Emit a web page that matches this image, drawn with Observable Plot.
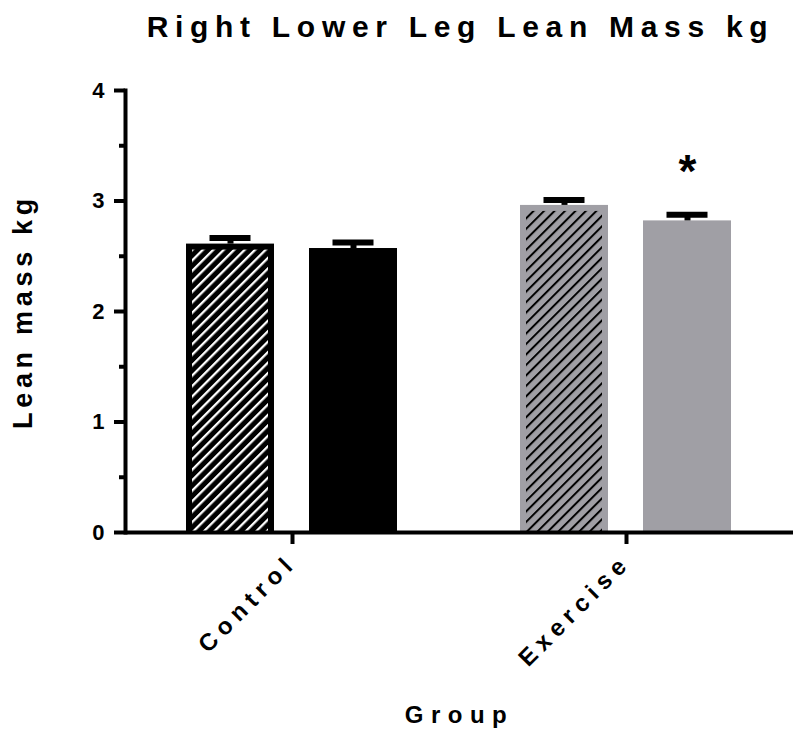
<!DOCTYPE html>
<html>
<head>
<meta charset="utf-8">
<script src="https://cdn.jsdelivr.net/npm/d3@7"></script>
<script src="https://cdn.jsdelivr.net/npm/@observablehq/plot@0.6"></script>
<style>
  body { margin: 0; background: #fff; }
  #chart { position: relative; width: 795px; height: 730px; font-family: "Liberation Sans", Arial, sans-serif; }
  #title { position: absolute; left: 126px; width: 669px; top: 12px; text-align: center; font-size: 30px; font-weight: bold; letter-spacing: 6.7px; line-height: 30px; white-space: nowrap; color: #000; }
  #chart svg { position: absolute; left: 0; top: 0; }
  [aria-label="y-axis label"], [aria-label="y-axis label"] text { font-size: 27px; letter-spacing: 4.7px; }
  [aria-label="fx-axis label"], [aria-label="fx-axis label"] text { font-size: 24px; letter-spacing: 7.5px; }
  [aria-label="fx-axis tick label"] { letter-spacing: 6px; }
  [aria-label="y-axis tick"], [aria-label="fx-axis tick"], [aria-label="frame"] { stroke-width: 4px; }
</style>
</head>
<body>
<div id="chart">
  <div id="title">Right Lower Leg Lean Mass kg</div>
</div>
<script>
// Groups and the two measurement occasions shown side by side in each group
const groups = ["Control", "Exercise"];
const phases = ["pre", "post"];

// Mean lean mass (kg) and standard error for each occasion
const controlMean = [2.61, 2.57];
const controlSem = [0.055, 0.055];
const exerciseMean = [2.96, 2.82];
const exerciseSem = [0.05, 0.055];

// Significance markers drawn above the error bars
const controlSig = ["", ""];
const exerciseSig = ["", "*"];

// Y axis ticks
const yTicks = [0, 1, 2, 3, 4];
const yMinorTicks = [0.5, 1.5, 2.5, 3.5];

const byGroup = {
  Control: {mean: controlMean, sem: controlSem, sig: controlSig},
  Exercise: {mean: exerciseMean, sem: exerciseSem, sig: exerciseSig}
};
const rows = groups.flatMap(g => phases.map((p, i) => ({
  group: g, phase: p,
  mean: byGroup[g].mean[i], sem: byGroup[g].sem[i], sig: byGroup[g].sig[i]
})));

const fontFamily = '"Liberation Sans", Arial, sans-serif';
const errTop = d => d.mean + d.sem;
const hatched = g => rows.filter(d => d.group === g && d.phase === "pre");

const svg = Plot.plot({
  width: 795,
  height: 730,
  marginTop: 90,
  marginBottom: 198,
  marginLeft: 124,
  marginRight: 2,
  style: {fontFamily, background: "white", color: "black", overflow: "visible"},
  fx: {domain: groups, padding: 0},
  x: {domain: phases, paddingInner: 0.282, paddingOuter: 0.49, axis: null},
  y: {domain: [0, 4]},
  color: {domain: groups, range: ["#000000", "#a09fa5"]},
  marks: [
    Plot.barY(rows, {fx: "group", x: "phase", y: "mean", fill: "group"}),
    Plot.barY(hatched("Control"), {fx: "group", x: "phase", y: "mean", fill: "url(#hatch-light)", insetTop: 6, insetLeft: 6, insetRight: 6}),
    Plot.barY(hatched("Exercise"), {fx: "group", x: "phase", y: "mean", fill: "url(#hatch-dark)", insetTop: 6, insetLeft: 6, insetRight: 6}),
    Plot.ruleX(rows, {fx: "group", x: "phase", y1: "mean", y2: errTop, stroke: "black", strokeWidth: 6}),
    Plot.tickY(rows, {fx: "group", x: "phase", y: errTop, stroke: "black", strokeWidth: 6, inset: 23.5}),
    Plot.text(rows.filter(d => d.sig), {fx: "group", x: "phase", y: errTop, text: "sig", dy: -43, fontSize: 46, fontWeight: "bold", fontFamily}),
    Plot.ruleY([0], {stroke: "black", strokeWidth: 4}),
    Plot.frame({anchor: "left", facetAnchor: "left", stroke: "black", strokeWidth: 4}),
    Plot.axisY({ticks: yMinorTicks, tickSize: 6, strokeWidth: 4, text: null, label: null}),
    Plot.axisY({
      ticks: yTicks, tickFormat: d3.format("d"), tickSize: 11, tickPadding: 10, strokeWidth: 4,
      fontSize: 22, fontWeight: "bold", fontFamily,
      label: "Lean mass kg", labelAnchor: "center", labelOffset: 113, labelArrow: "none"
    }),
    Plot.axisFx({
      anchor: "bottom", tickSize: 12, strokeWidth: 4, tickRotate: -45, tickPadding: 14,
      fontSize: 24, fontWeight: "bold", fontFamily,
      label: "Group", labelAnchor: "center", labelOffset: 190
    })
  ]
});

// Diagonal hatch fills for the first bar of each group
const defs = d3.select(svg).insert("defs", ":first-child");
function hatch(id, background, stripe, stripeWidth) {
  const size = 7.4;
  const p = defs.append("pattern")
    .attr("id", id)
    .attr("patternUnits", "userSpaceOnUse")
    .attr("width", size).attr("height", size)
    .attr("patternTransform", "rotate(45)");
  p.append("rect").attr("width", size).attr("height", size).attr("fill", background);
  p.append("rect").attr("width", stripeWidth).attr("height", size).attr("fill", stripe);
}
hatch("hatch-light", "#000000", "#ffffff", 2.3);
hatch("hatch-dark", "#a09fa5", "#000000", 2);

document.getElementById("chart").prepend(svg);
</script>
</body>
</html>
